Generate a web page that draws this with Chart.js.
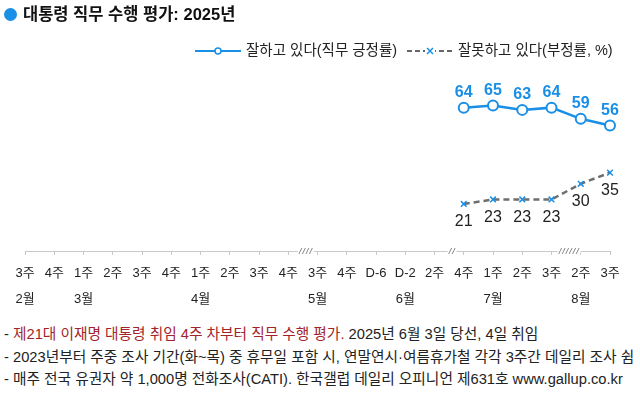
<!DOCTYPE html>
<html>
<head>
<meta charset="utf-8">
<script src="https://cdn.jsdelivr.net/npm/chart.js@4"></script>
<style>
    body { margin: 0; background: #fff; font-family: "Liberation Sans", "Noto Sans CJK KR", sans-serif; }
    #wrap { position: relative; width: 640px; height: 397px; overflow: hidden; }
    #chart { position: absolute; left: 0; top: 0; }
    .title { position: absolute; left: 4px; top: 1px; font-size: 16.5px; font-weight: bold; color: #111; white-space: nowrap; }
    .title .dot { display: inline-block; width: 13px; height: 13px; border-radius: 50%; background: #1a8fe6; margin-right: 6px; vertical-align: -1px; }
    .legend { position: absolute; top: 38px; font-size: 14.5px; color: #222; white-space: nowrap; }
    .legend svg { vertical-align: middle; margin-right: 4px; }
    .notes { position: absolute; left: 4px; top: 323px; font-size: 14.7px; color: #222; line-height: 22.5px; white-space: nowrap; }
    .notes .red { color: #a3232a; }
</style>
</head>
<body>
<div id="wrap">
    <canvas id="chart" width="640" height="317"></canvas>
    <div class="title"><span class="dot"></span>대통령 직무 수행 평가: 2025년</div>
    <div class="legend" style="left:194px">
        <svg width="48" height="12"><line x1="1" y1="6" x2="47" y2="6" stroke="#1a8fe6" stroke-width="2"/><circle cx="24" cy="6" r="3" fill="#fff" stroke="#1a8fe6" stroke-width="1.5"/></svg>잘하고 있다(직무 긍정률)
    </div>
    <div class="legend" style="left:406px">
        <svg width="48" height="12"><line x1="1" y1="6" x2="47" y2="6" stroke="#666" stroke-width="2" stroke-dasharray="5,3"/><rect x="19" y="1" width="10" height="10" fill="#fff"/><path d="M21 3 L27 9 M27 3 L21 9" stroke="#1a8fe6" stroke-width="1.5"/></svg>잘못하고 있다(부정률, %)
    </div>
    <div class="notes">
        <div>- <span class="red">제21대 이재명 대통령 취임 4주 차부터 직무 수행 평가.</span> 2025년 6월 3일 당선, 4일 취임</div>
        <div>- 2023년부터 주중 조사 기간(화~목) 중 휴무일 포함 시, 연말연시·여름휴가철 각각 3주간 데일리 조사 쉼</div>
        <div>- 매주 전국 유권자 약 1,000명 전화조사(CATI). 한국갤럽 데일리 오피니언 제631호 www.gallup.co.kr</div>
    </div>
</div>
<script>
// x-axis labels: week of month, and month under the first week shown
const weekLabels = ['3주', '4주', '1주', '2주', '3주', '4주', '1주', '2주', '3주', '4주', '3주', '4주', 'D-6', 'D-2', '2주', '4주', '1주', '2주', '3주', '2주', '3주'];
const monthLabels = ['2월', '', '3월', '', '', '', '4월', '', '', '', '5월', '', '', '6월', '', '', '7월', '', '', '8월', ''];

// 잘하고 있다 / 잘못하고 있다 (%)
const approveValues = [null, null, null, null, null, null, null, null, null, null, null, null, null, null, null, 64, 65, 63, 64, 59, 56];
const disapproveValues = [null, null, null, null, null, null, null, null, null, null, null, null, null, null, null, 21, 23, 23, 23, 30, 35];

// axis breaks: drawn between category i and i+1
const breakAfter = [9, 14, 18];
const breakCount = [4, 2, 6];

const BLUE = '#1a8fe6';

const valueLabels = {
    id: 'valueLabels',
    afterDatasetsDraw(chart) {
        const ctx = chart.ctx;
        ctx.save();
        ctx.textAlign = 'center';
        ctx.textBaseline = 'middle';
        chart.data.datasets.forEach((ds, i) => {
            const meta = chart.getDatasetMeta(i);
            meta.data.forEach((pt, j) => {
                const v = ds.data[j];
                if (v === null) return;
                if (i === 0) {
                    ctx.font = 'bold 16px "Liberation Sans", sans-serif';
                    ctx.fillStyle = BLUE;
                    ctx.fillText(v, pt.x, pt.y - 15);
                } else {
                    ctx.font = '16px "Liberation Sans", sans-serif';
                    ctx.fillStyle = '#222';
                    ctx.fillText(v, pt.x, pt.y + 18);
                }
            });
        });
        ctx.restore();
    }
};

const axisBreaks = {
    id: 'axisBreaks',
    afterDraw(chart) {
        const ctx = chart.ctx;
        const x = chart.scales.x;
        const y = chart.chartArea.bottom;
        ctx.save();
        breakAfter.forEach((idx, k) => {
            const cx = (x.getPixelForValue(idx) + x.getPixelForValue(idx + 1)) / 2 + 3;
            const n = breakCount[k];
            const w = n * 3.5;
            ctx.fillStyle = '#fff';
            ctx.fillRect(cx - w / 2 - 1, y - 2, w + 2, 4);
            ctx.strokeStyle = '#888';
            ctx.lineWidth = 1;
            for (let s = 0; s < n; s++) {
                const sx = cx - w / 2 + s * 3.5 + 1.5;
                ctx.beginPath();
                ctx.moveTo(sx - 1.5, y + 3);
                ctx.lineTo(sx + 1.5, y - 3);
                ctx.stroke();
            }
        });
        ctx.restore();
    }
};

new Chart(document.getElementById('chart'), {
    type: 'line',
    data: {
        labels: weekLabels.map((w, i) => [w, monthLabels[i]]),
        datasets: [
            {
                label: '잘하고 있다(직무 긍정률)',
                data: approveValues,
                borderColor: BLUE,
                borderWidth: 2.5,
                pointStyle: 'circle',
                pointRadius: 5,
                pointBorderWidth: 2,
                pointBackgroundColor: '#fff',
                pointBorderColor: BLUE,
                tension: 0
            },
            {
                label: '잘못하고 있다(부정률, %)',
                data: disapproveValues,
                borderColor: '#6e6e6e',
                borderWidth: 2.5,
                borderDash: [6, 4],
                pointStyle: 'crossRot',
                pointRadius: 4,
                pointBorderWidth: 1.5,
                pointBorderColor: BLUE,
                tension: 0
            }
        ]
    },
    options: {
        responsive: false,
        animation: false,
        devicePixelRatio: 1,
        layout: { padding: { left: 25, right: 30, top: 27, bottom: 0 } },
        plugins: { legend: { display: false }, tooltip: { enabled: false } },
        scales: {
            x: {
                offset: false,
                grid: { drawOnChartArea: false, color: '#c8c8c8', tickLength: 4 },
                border: { color: '#c8c8c8' },
                ticks: {
                    autoSkip: false,
                    maxRotation: 0,
                    padding: 5,
                    color: '#222',
                    font: { size: 13, family: '"Liberation Sans", "Noto Sans CJK KR", sans-serif', lineHeight: 2 }
                }
            },
            y: { display: false, min: 0, max: 100 }
        }
    },
    plugins: [valueLabels, axisBreaks]
});
</script>
</body>
</html>
